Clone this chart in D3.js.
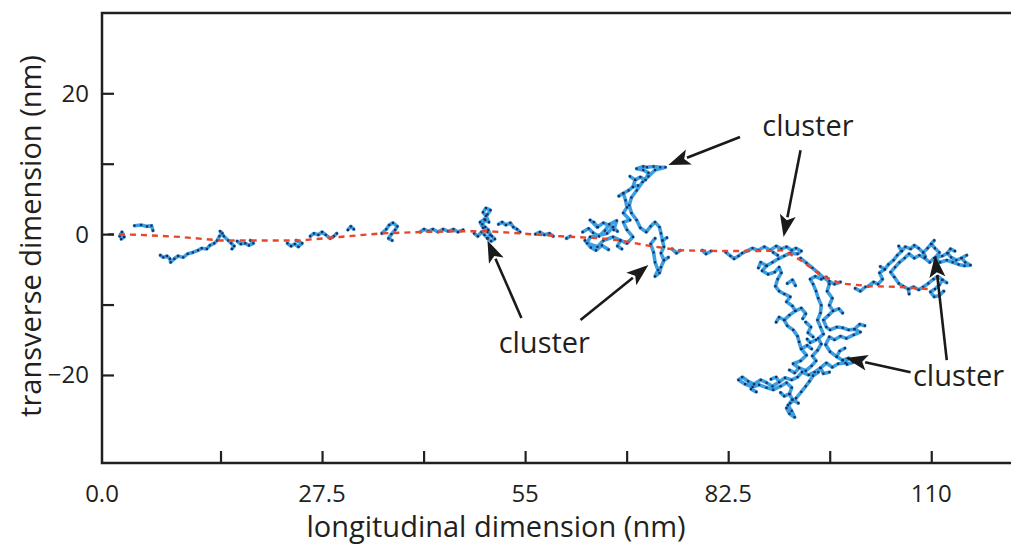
<!DOCTYPE html>
<html>
<head>
<meta charset="utf-8">
<script src="https://cdn.jsdelivr.net/npm/d3@7"></script>
<style>
  body { margin: 0; background: #fff; }
  text { font-family: "Open Sans", "Noto Sans", sans-serif; fill: #231f20; }
</style>
</head>
<body>
<svg id="chart" width="1011" height="547"></svg>
<script>
// ---- axes ----
const xDomain = [-2.3, 120.8];
const yDomain = [-32.5, 31.4];
const xTickValues = [13.75, 27.5, 41.25, 55, 68.75, 82.5, 96.25, 110];
const xTickLabels = ["27.5", "55", "82.5", "110"];
const xTickLabelValues = [27.5, 55, 82.5, 110];
const xOriginLabel = "0.0";
const yTickValues = [20, 10, 0, -10, -20];
const yTickLabelValues = [20, 0, -20];
const xTitle = "longitudinal dimension (nm)";
const yTitle = "transverse dimension (nm)";

// ---- single-particle trajectory (nm), drawn as separate visible fragments ----
const walkEarly = [
  [[0.1,-0.3],[0.4,0.3],[0.7,-0.4],[0.3,-0.7]],
  [[2.1,1.2],[3.0,1.3],[3.8,1.1],[4.4,1.2],[4.6,0.5]],
  [[5.6,-3.0],[6.0,-3.3],[6.5,-3.1],[6.9,-3.5],[7.0,-4.0],[7.5,-3.5],[8.0,-3.1],[8.7,-3.3],
   [9.3,-2.8],[10.0,-2.6],[10.7,-2.3],[11.2,-2.0],[11.9,-2.1],[12.3,-1.6],[12.9,-1.3],[13.3,-0.9],
   [13.6,-0.3],[14.0,0.1],[13.7,0.4],[14.2,-0.3],[14.8,-0.9],[15.2,-1.3],[15.6,-1.7],[15.3,-2.1]],
  [[16.0,-1.0],[16.5,-1.4],[17.1,-1.3],[17.6,-1.6],[18.2,-1.3],[17.8,-0.9]],
  [[22.8,-1.3],[23.3,-1.7],[23.8,-1.4],[24.3,-1.8],[24.8,-1.3],[24.0,-0.9]]
];
const walkMiddle = [
  [[25.9,-0.3],[26.4,0.1],[27.0,-0.1],[27.5,0.3],[28.0,-0.1],[28.6,-0.6],[29.1,-0.3],[29.5,0.1]],
  [[31.0,0.6],[31.4,1.1],[31.8,0.7]],
  [[35.6,0.1],[36.2,0.7],[36.6,1.3],[37.1,1.6],[37.7,1.1],[37.4,0.6],[36.9,0],[36.5,-0.6],[37.0,-0.9]],
  [[40.8,0.3],[41.3,0.7],[41.9,0.4],[42.5,0.7],[43.2,0.3],[43.9,0.7],[44.6,0.4],[45.3,0.7],[45.9,0.3],[46.6,0.6]],
  [[48.1,0.1],[48.6,-0.3],[49.1,0.3],[49.5,-0.1],[49.9,-0.6],[50.3,-0.1],[50.0,0.6],[49.6,1.0],
   [49.2,1.4],[49.6,2.0],[50.1,1.7],[49.7,2.6],[49.3,3.1],[49.7,3.7],[50.3,3.4],[49.9,2.8],
   [49.5,2.1],[48.9,1.7],[49.3,0.9],[49.9,0.3],[50.5,-0.3],[50.9,-0.7],[50.4,-1.0],[49.9,-0.6]],
  [[51.4,1.4],[51.9,1.7],[52.4,1.3],[53.0,1.6],[53.4,1.0],[53.9,0.7],[54.3,0.3]],
  [[56.4,0],[57.0,0.3],[57.6,-0.1],[58.3,0.1],[58.8,-0.3]],
  [[60.6,-0.6],[61.1,-0.3]]
];
const walkCluster65 = [
  [[63.8,2.0],[64.8,1.0],[65.6,1.6],[66.9,1.0],[66.1,0.1],[63.8,-0.4],[63.4,-1.3],[64.8,-1.8],
   [65.6,-0.9],[66.9,-0.4],[67.9,-0.9],[68.8,-1.3],[69.6,-0.4],[68.8,0.6],[68.3,1.7],[69.2,2.0],
   [68.3,3.0],[68.8,3.8],[68.6,4.8],[68.3,5.8],[69.0,6.2],[69.6,6.7],[69.9,7.7],[70.6,8.1],
   [71.3,7.7],[71.7,8.7],[71.0,9.1],[70.1,9.3],[71.0,9.6],[71.5,9.5],[72.4,9.6],[73.3,9.5],
   [74.0,9.5],[72.6,9.1],[71.7,8.2],[70.9,7.4],[70.1,6.2],[69.4,5.2],[69.1,4.1],[69.4,3.0],
   [70.1,2.0],[70.6,0.9],[71.4,0.3],[72.0,1.1],[72.6,1.7],[73.2,1.0],[73.4,0.1],[73.6,-0.9],
   [73.8,-1.8],[73.4,-2.7],[73.8,-3.7],[73.4,-4.7],[73.2,-5.5],[72.6,-6.0],[73.0,-5.1],[72.6,-4.0],
   [72.4,-2.6],[72.0,-1.4],[72.6,-0.6]],
  [[62.8,0.3],[63.6,0.8],[64.2,0.2],[65.0,-0.3],[65.8,0.5],[66.4,1.4],[67.4,1.9],[67.0,0.6]],
  [[63.1,-0.9],[63.9,-1.9],[64.6,-2.3],[65.4,-1.6],[66.3,-2.2]],
  [[74.9,-2.1],[75.5,-2.7],[76.0,-2.3]],
  [[79.0,-2.3],[79.5,-2.8],[80.2,-2.4]]
];
const walkCluster90 = [
  [[82.2,-2.6],[82.8,-3.1],[83.3,-3.5],[83.9,-3.1],[84.4,-2.7],[85.0,-2.4],
   [85.8,-2.0],[86.6,-2.3],[87.4,-1.8],[88.2,-2.3],[89.0,-1.7],[89.7,-2.1],[90.4,-1.8],[91.1,-2.3],
   [91.7,-2.0],[92.4,-2.4],[91.9,-2.8],[90.9,-2.7],[90.1,-3.1],[89.3,-3.5],[88.5,-4.0],[87.7,-4.5],
   [87.1,-5.2],[87.9,-5.7],[88.8,-5.4],[89.4,-4.7],[89.7,-5.5],[89.2,-6.4],[88.9,-7.4],[89.4,-8.1],
   [90.1,-8.5],[90.9,-8.9],[90.4,-9.6],[91.2,-10.2],[91.6,-10.9],[90.8,-11.5],[90.1,-12.2],[90.5,-13.0],
   [91.3,-13.6],[91.9,-14.5],[92.1,-15.3],[92.4,-16.3],[93.1,-17.2],[92.3,-18.0],[91.3,-18.4],[92.1,-19.0],
   [93.0,-19.4],[93.8,-18.7],[94.4,-18.0],[93.9,-17.3],[94.6,-16.5],[95.1,-15.6],[94.7,-14.8],[95.4,-14.2],
   [95.0,-13.2],[94.6,-12.2],[95.0,-11.2],[95.1,-10.1],[94.7,-9.1],[94.4,-8.1],[94.0,-7.1],[93.6,-6.4],
   [94.3,-6.0],[95.1,-6.4],[95.8,-6.1],[96.2,-7.1],[95.9,-8.1],[96.6,-9.1],[96.2,-10.1],[96.7,-10.9],
   [96.1,-11.5],[95.4,-12.2],[95.8,-13.2],[96.3,-13.6],[97.2,-13.2],[98.0,-13.3],[98.8,-13.6],[99.6,-13.5],
   [100.4,-13.9],[99.5,-14.3],[98.5,-14.8],[97.7,-14.5],[96.9,-15.0],[96.2,-14.6],[95.7,-15.7],[96.3,-16.7],
   [97.2,-17.4],[98.0,-17.9],[98.8,-17.6],[98.4,-18.3],[97.4,-18.4],[96.6,-18.9],[95.8,-18.3],[95.0,-19.0],
   [94.2,-19.6],[93.4,-20.0],[92.5,-19.6],[91.9,-20.3],[91.1,-20.7],[90.2,-20.4],[89.4,-21.0],[88.5,-21.6],
   [87.7,-21.1],[86.9,-20.7],[86.0,-21.3],[85.2,-20.9],[84.4,-20.3],[83.9,-20.7],[84.8,-21.3],[85.8,-21.7],
   [86.7,-21.4],[87.7,-21.8],[88.6,-22.1],[89.6,-21.6],[90.4,-21.1],[91.1,-21.8],[90.8,-22.7],[91.2,-23.5],
   [90.6,-24.3],[91.1,-25.1],[91.5,-26.0],[90.8,-25.5],[90.4,-24.7],[90.9,-24.0],[91.7,-23.3],[92.4,-22.4],
   [93.0,-21.6],[93.5,-20.9],[94.0,-20.1],[94.7,-19.6]],
  [[92.3,-3.4],[93.1,-4.1],[93.9,-4.8],[94.7,-5.5],[95.4,-6.2],[96.2,-6.7],[96.9,-7.1],[97.7,-6.8]],
  [[99.7,-7.7],[100.4,-8.1],[101.1,-7.5]]
];
const walkCluster110 = [
  [[101.5,-7.4],[102.2,-6.8],[102.8,-7.1],[103.4,-6.4],[103.0,-5.5],[103.7,-5.0],[104.2,-4.3],[104.9,-3.7],
   [105.4,-3.0],[106.0,-2.4],[106.5,-1.8],[107.2,-2.1],[107.7,-1.6],[108.3,-2.0],[108.9,-2.6],[109.5,-2.0],
   [110.0,-1.4],[110.5,-2.0],[111.1,-2.6],[110.6,-3.3],[111.5,-3.1],[112.2,-2.7],[112.7,-3.3],[113.4,-3.7],
   [114.1,-3.4],[114.6,-4.0],[115.3,-4.4],[114.5,-4.5],[113.7,-4.3],[112.9,-4.0],[112.1,-3.7],[111.2,-4.0],
   [110.4,-3.4],[109.8,-4.0],[109.1,-3.4],[108.4,-3.0],[107.7,-3.4],[107.0,-2.8],[106.4,-3.4],[105.7,-4.0],
   [105.1,-4.7],[104.5,-5.4],[105.0,-6.1],[105.6,-7.0],[106.2,-7.4],[106.9,-7.8],[107.6,-7.5],[108.3,-7.9],
   [108.9,-7.5],[109.6,-7.0],[110.3,-6.4],[110.9,-6.0],[111.5,-6.5],[111.1,-7.2],[110.5,-7.8],[109.9,-8.2],
   [110.4,-8.9],[111.1,-8.7],[111.7,-8.1]]
];
// short side excursions branching off the main path inside the clusters
const walkSideSteps = [
  [[64.8,1.0],[64.3,1.7]], [[66.9,1.0],[67.5,0.4]], [[69.6,6.7],[70.3,6.9]], [[68.3,5.8],[67.7,5.4]],
  [[69.9,7.7],[69.2,8.2]], [[73.6,-0.9],[74.2,-0.5]], [[73.8,-3.7],[74.4,-3.3]], [[67.9,-0.9],[67.5,-1.7],[68.1,-2.1]],
  [[89.2,-3.0],[88.6,-2.6]], [[87.7,-4.5],[86.9,-4.0],[86.6,-4.8]], [[90.5,-7.0],[91.2,-6.5],[91.6,-7.3]],
  [[91.6,-10.9],[92.4,-10.5],[93.0,-11.3],[92.6,-12.0]], [[93.0,-12.5],[93.7,-13.2],[93.3,-14.0],[94.0,-14.6]],
  [[92.4,-16.3],[93.2,-15.8],[93.8,-16.3]], [[96.7,-10.9],[97.5,-10.6],[98.0,-11.2]],
  [[99.6,-13.5],[100.3,-12.8],[101.0,-13.0]], [[98.0,-17.9],[98.6,-18.5],[99.4,-18.2]],
  [[95.0,-19.0],[95.4,-19.8],[96.2,-19.6]], [[92.1,-19.0],[91.5,-19.7],[90.8,-19.3]],
  [[89.4,-21.0],[89.0,-20.3],[88.3,-20.6]], [[86.0,-21.3],[85.6,-22.0],[86.3,-22.4]],
  [[90.8,-22.7],[90.1,-23.0],[89.6,-22.5]], [[91.2,-23.5],[92.0,-24.0]], [[94.4,-15.0],[93.6,-15.4],[93.2,-14.9]],
  [[97.2,-17.4],[97.6,-16.6],[98.3,-16.2]], [[90.1,-12.2],[89.4,-11.8],[89.0,-12.5]],
  [[106.0,-2.4],[105.6,-1.7]], [[108.9,-2.6],[109.2,-3.2]], [[112.2,-2.7],[112.6,-2.1],[113.2,-2.4]],
  [[114.1,-3.4],[114.8,-3.0]], [[103.7,-5.0],[103.1,-4.6]], [[106.9,-7.8],[107.0,-8.5]],
  [[111.5,-6.5],[112.1,-6.9]], [[110.0,-1.4],[110.4,-0.9]]
];

// ---- mean drift path (nm) ----
const meanPath = [
  [-1.5,0],[2.8,-0.1],[8.3,-0.4],[13.7,-0.9],[19.1,-0.9],[24.5,-0.9],[29.9,-0.4],[35.4,0.1],
  [40.8,0.3],[46.2,0.4],[50.3,0.4],[54.3,0.1],[59.8,-0.3],[65.2,-0.6],[67.9,-0.9],[72.0,-1.7],
  [76.0,-2.3],[81.4,-2.4],[86.9,-2.4],[90.0,-2.3],[92.3,-3.7],[95.0,-5.8],[97.7,-7.0],[101.8,-7.4],
  [105.8,-7.5],[109.6,-7.8]
];

// ---- annotations (nm) ----
const labelText = ["cluster", "cluster", "cluster"];
const labelAnchors = [[93.3, 13.9], [57.6, -16.9], [113.7, -21.6]];
const arrowTails = [[84.1, 13.8], [92.3, 11.9], [54.5, -11.9], [62.5, -12.2], [107.2, -19.6], [112.1, -17.9]];
const arrowHeads = [[74.4, 9.8], [90.0, -0.4], [49.9, -0.9], [71.7, -4.4], [98.4, -17.6], [110.5, -3.0]];

// ---- drawing ----
const svg = d3.select("#chart");
const plot = { left: 102, top: 13, right: 1011, bottom: 463 };
const x = d3.scaleLinear().domain(xDomain).range([plot.left, plot.right]);
const y = d3.scaleLinear().domain(yDomain).range([plot.bottom, plot.top]);

const axisColor = "#231f20";
const tickLen = 12;

// trajectory
const line = d3.line().x(d => x(d[0])).y(d => y(d[1]));
const fragments = [].concat(walkEarly, walkMiddle, walkCluster65, walkCluster90, walkCluster110, walkSideSteps);
const walkG = svg.append("g");
walkG.selectAll("path.walk").data(fragments).join("path")
  .attr("class", "walk")
  .attr("d", line)
  .attr("fill", "none")
  .attr("stroke", "#3aa0e2")
  .attr("stroke-width", 3.6)
  .attr("stroke-linejoin", "round")
  .attr("stroke-linecap", "round");
walkG.selectAll("rect.step").data(fragments.flat()).join("rect")
  .attr("class", "step")
  .attr("x", d => x(d[0]) - 1.1)
  .attr("y", d => y(d[1]) - 1.1)
  .attr("width", 2.2)
  .attr("height", 2.2)
  .attr("fill", "#1c2a5e");

// mean path
svg.append("path")
  .datum(meanPath)
  .attr("d", line)
  .attr("fill", "none")
  .attr("stroke", "#e8462b")
  .attr("stroke-width", 2.4)
  .attr("stroke-dasharray", "6,5");

// frame (left and top edges; right side runs off the page)
svg.append("path")
  .attr("d", `M${plot.right},${plot.top}H${plot.left}V${plot.bottom}H${plot.right}`)
  .attr("fill", "none")
  .attr("stroke", axisColor)
  .attr("stroke-width", 2.5);

// x axis ticks (inward) and labels
const xAxis = d3.axisBottom(x).tickValues(xTickValues).tickSize(-tickLen).tickFormat("");
const gx = svg.append("g").attr("transform", `translate(0,${plot.bottom})`).call(xAxis);
gx.select(".domain").remove();
gx.selectAll(".tick line").attr("stroke", axisColor).attr("stroke-width", 2.2);

svg.selectAll("text.xlab").data(xTickLabelValues).join("text")
  .attr("class", "xlab")
  .attr("x", d => x(d))
  .attr("y", 502)
  .attr("text-anchor", "middle")
  .attr("font-size", 24)
  .text((d, i) => xTickLabels[i]);
svg.append("text")
  .attr("x", x(xDomain[0]))
  .attr("y", 502)
  .attr("text-anchor", "middle")
  .attr("font-size", 24)
  .text(xOriginLabel);

// y axis ticks (inward) and labels
const yAxis = d3.axisLeft(y).tickValues(yTickValues).tickSize(-tickLen).tickFormat("");
const gy = svg.append("g").attr("transform", `translate(${plot.left},0)`).call(yAxis);
gy.select(".domain").remove();
gy.selectAll(".tick line").attr("stroke", axisColor).attr("stroke-width", 2.2);

svg.selectAll("text.ylab").data(yTickLabelValues).join("text")
  .attr("class", "ylab")
  .attr("x", 89)
  .attr("y", d => y(d))
  .attr("dy", "0.35em")
  .attr("text-anchor", "end")
  .attr("font-size", 24)
  .text(d => d < 0 ? "\u2212" + Math.abs(d) : String(d));

// axis titles
svg.append("text")
  .attr("x", 496)
  .attr("y", 537)
  .attr("text-anchor", "middle")
  .attr("font-size", 29)
  .text(xTitle);
svg.append("text")
  .attr("transform", "translate(41,236) rotate(-90)")
  .attr("text-anchor", "middle")
  .attr("font-size", 29)
  .text(yTitle);

// annotation arrows
const headLen = 22, headHalf = 8;
const arrows = arrowTails.map((t, i) => ({ t, h: arrowHeads[i] }));
const annG = svg.append("g");
arrows.forEach(a => {
  const x0 = x(a.t[0]), y0 = y(a.t[1]);
  const x1 = x(a.h[0]), y1 = y(a.h[1]);
  const ang = Math.atan2(y1 - y0, x1 - x0);
  const bx = x1 - headLen * Math.cos(ang), by = y1 - headLen * Math.sin(ang);
  annG.append("line")
    .attr("x1", x0).attr("y1", y0).attr("x2", bx + 2 * Math.cos(ang)).attr("y2", by + 2 * Math.sin(ang))
    .attr("stroke", "#1a1a1a").attr("stroke-width", 2.6);
  const px = -Math.sin(ang), py = Math.cos(ang);
  annG.append("path")
    .attr("d", `M${x1},${y1}L${bx + headHalf * px},${by + headHalf * py}L${bx + 5 * Math.cos(ang)},${by + 5 * Math.sin(ang)}L${bx - headHalf * px},${by - headHalf * py}Z`)
    .attr("fill", "#1a1a1a");
});
annG.selectAll("text").data(labelAnchors).join("text")
  .attr("x", d => x(d[0]))
  .attr("y", d => y(d[1]))
  .attr("text-anchor", "middle")
  .attr("font-size", 29)
  .text((d, i) => labelText[i]);
</script>
</body>
</html>
